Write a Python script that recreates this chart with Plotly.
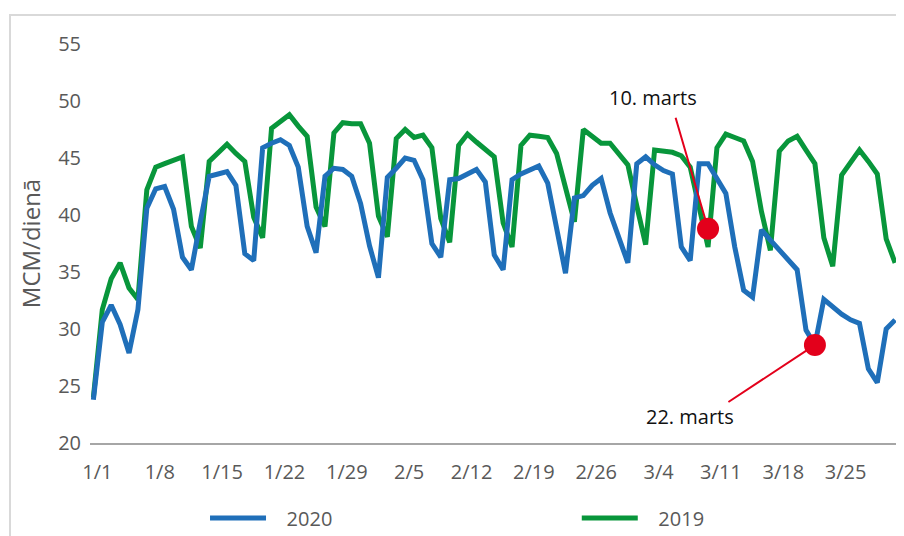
import pandas as pd
import plotly.graph_objects as go

dates = pd.date_range("2020-01-01", "2020-03-31", freq="D")

# MCM/dienā, 1 Jan - 31 Mar
gas_2020 = [
    23.8, 30.6, 32.1, 30.4, 27.9, 31.7, 40.6, 42.3, 42.5, 40.5,
    36.3, 35.2, 39.4, 43.4, 43.6, 43.8, 42.6, 36.6, 36.0, 45.9,
    46.3, 46.6, 46.1, 44.2, 39.0, 36.7, 43.4, 44.1, 44.0, 43.4,
    41.0, 37.3, 34.5, 43.3, 44.1, 45.0, 44.8, 43.1, 37.5, 36.3,
    43.1, 43.2, 43.6, 44.0, 42.9, 36.5, 35.2, 43.1, 43.6, 44.0,
    44.3, 42.8, 39.0, 34.9, 41.5, 41.7, 42.6, 43.2, 40.2, 37.9,
    35.8, 44.5, 45.1, 44.4, 43.9, 43.6, 37.2, 36.0, 44.5, 44.5,
    43.1, 41.9, 37.2, 33.4, 32.8, 38.7, 37.8, 36.9, 36.1, 35.2,
    29.9, 28.6, 32.6, 31.9, 31.3, 30.8, 30.5, 26.5, 25.3, 30.0,
    30.8,
]

# 2019 has no 29 Feb
gas_2019 = [
    24.0, 31.7, 34.4, 35.8, 33.6, 32.6, 42.2, 44.2, 44.5, 44.8,
    45.1, 39.0, 37.1, 44.7, 45.5, 46.2, 45.4, 44.7, 39.8, 38.0,
    47.6, 48.2, 48.8, 47.8, 46.9, 40.7, 39.0, 47.2, 48.1, 48.0,
    48.0, 46.3, 39.9, 38.1, 46.7, 47.5, 46.8, 47.0, 45.9, 39.7,
    37.6, 46.1, 47.1, 46.4, 45.8, 45.1, 39.3, 37.2, 46.1, 47.0,
    46.9, 46.8, 45.4, 42.4, 39.4, 47.5, 46.9, 46.3, 46.3, None,
    44.4, 40.8, 37.4, 45.7, 45.6, 45.5, 45.2, 44.2, 40.7, 37.2,
    45.9, 47.1, 46.8, 46.5, 44.7, 40.3, 36.9, 45.6, 46.5, 46.9,
    45.7, 44.5, 38.0, 35.5, 43.5, 44.6, 45.7, 44.7, 43.6, 37.9,
    35.8,
]

mark_dates = ["2020-03-10", "2020-03-22"]
mark_vals = [38.8, 28.6]
mark_labels = ["10. marts", "22. marts"]

blue = "#1f6fb9"
green = "#08963b"
red = "#e3001b"
pad = "\u00a0\u00a0\u00a0"  # extra gap between legend line and label

fig = go.Figure()

fig.add_trace(go.Scatter(x=dates, y=gas_2019, name=pad + "2019", mode="lines",
                         connectgaps=True, legend="legend2",
                         line=dict(color=green, width=5)))
fig.add_trace(go.Scatter(x=dates, y=gas_2020, name=pad + "2020", mode="lines",
                         legend="legend",
                         line=dict(color=blue, width=5)))
fig.add_trace(go.Scatter(x=mark_dates, y=mark_vals, mode="markers",
                         showlegend=False,
                         marker=dict(color=red, size=22)))

# label text and pointer lines
label_shift = [(-55, 131), (-125, -72)]
arrow_off = [(-33, -113), (-88, 58)]
for d, v, t, (sx, sy), (ax, ay) in zip(mark_dates, mark_vals, mark_labels, label_shift, arrow_off):
    fig.add_annotation(x=d, y=v, text=t, showarrow=False, xshift=sx, yshift=sy,
                       font=dict(family="Open Sans", size=20, color="#111111"))
    fig.add_annotation(x=d, y=v, text=" ", showarrow=True, ax=ax, ay=ay,
                       arrowhead=0, arrowwidth=2, arrowcolor=red, standoff=8,
                       font=dict(size=1))

# light frame around the chart
fig.add_shape(type="rect", xref="paper", yref="paper",
              x0=-0.0983, x1=1.02, y0=-0.26, y1=1.0727,
              line=dict(color="#d9d9d9", width=2), layer="below")

legend_style = dict(orientation="h", y=-0.188, xanchor="left", yanchor="middle",
                    itemwidth=56, bgcolor="rgba(0,0,0,0)")

# page body adds an 8px margin, so the figure is 8px smaller than the window
fig.update_layout(
    width=896, height=528,
    margin=dict(l=82, r=0, t=36, b=93, autoexpand=False),
    paper_bgcolor="white", plot_bgcolor="white",
    font=dict(family="Open Sans", size=20, color="#595959"),
    xaxis=dict(type="date",
               range=["2019-12-31 14:53", "2020-04-01 00:00"],
               tickformat="%-m/%-d", tick0="2020-01-01", dtick=7 * 86400000,
               showgrid=False, zeroline=False, ticks="", automargin=False,
               showline=True, linecolor="#a6a6a6", linewidth=2,
               ticklabelshift=4, ticklabelstandoff=10),
    yaxis=dict(range=[20, 55], dtick=5, showgrid=False, zeroline=False,
               showline=False, ticks="", ticklabelstandoff=8, automargin=False,
               title=dict(text="MCM/dienā", standoff=10)),
    legend=dict(x=0.1413, **legend_style),
    legend2=dict(x=0.598, **legend_style),
)

fig.write_html("out.html")
